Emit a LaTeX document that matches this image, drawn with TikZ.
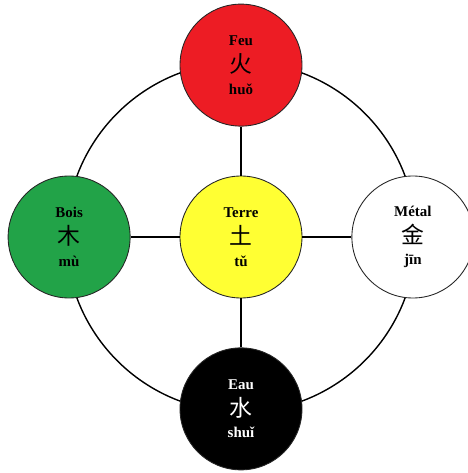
\documentclass[tikz,border=0pt]{standalone}
\usepackage{fontspec}
\setmainfont{Liberation Serif}
\newfontfamily\cjk{Noto Sans CJK SC}
\usetikzlibrary{positioning}
\definecolor{FeuRed}{RGB}{237, 28, 36}
\definecolor{BoisGreen}{RGB}{34, 163, 72}
\definecolor{TerreYellow}{RGB}{255, 255, 51}
\newcommand{\hanzi}[1]{{\cjk\mdseries\fontsize{13}{13.3}\selectfont #1}}
\newcommand{\elemtext}[3]{#1\\[2pt]\hanzi{#2}\\[-1pt]#3}

\begin{document}
\begin{tikzpicture}[
                node distance=0.98cm,
                elem/.style={circle, draw=black!85, line width=0.5pt,
                             minimum size=2.44cm, inner sep=0pt, align=center,
                             font=\fontsize{8.5}{13.3}\selectfont\bfseries},
                link/.style={black, line width=0.8pt}
            ]
                \useasboundingbox (0,0) rectangle (9.34,9.46);
                \coordinate (mid) at (4.82,4.72);
                \draw[link] (mid) circle (3.5);

                \node[elem, fill=TerreYellow] (terre) at (mid) {\elemtext{Terre}{土}{tǔ}};
                \node[elem, fill=FeuRed, above=of terre] (feu) {\elemtext{Feu}{火}{huǒ}};
                \node[elem, fill=BoisGreen, left=of terre] (bois) {\elemtext{Bois}{木}{mù}};
                \node[elem, fill=white, right=of terre] (metal) {\elemtext{Métal}{金}{jīn}};
                \node[elem, fill=black, text=white, below=of terre] (eau) {\elemtext{Eau}{水}{shuǐ}};

                \draw[link] (terre) -- (feu);
                \draw[link] (terre) -- (bois);
                \draw[link] (terre) -- (metal);
                \draw[link] (terre) -- (eau);
            \end{tikzpicture}
\end{document}
